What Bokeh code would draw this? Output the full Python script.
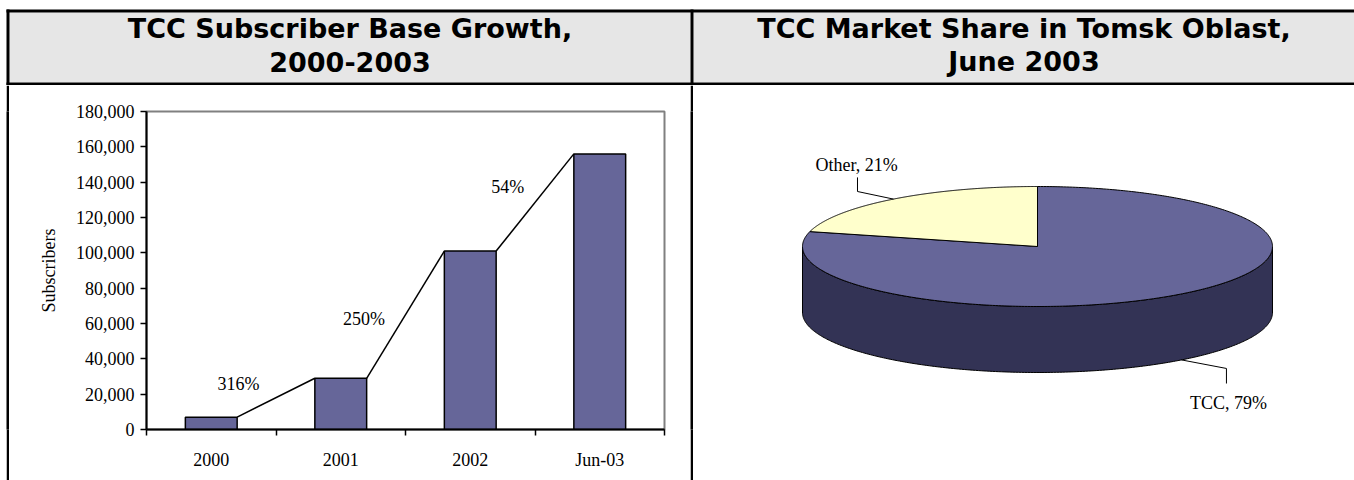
import numpy as np
from bokeh.plotting import figure
from bokeh.layouts import column, row
from bokeh.models import Range1d, FixedTicker, NumeralTickFormatter
from bokeh.core.properties import value
from bokeh.embed import file_html
from bokeh.resources import INLINE

# ---------------- data ----------------
categories = ["2000", "2001", "2002", "Jun-03"]
subscribers = [7000, 29000, 101000, 156000]
growth_labels = ["316%", "250%", "54%"]
y_ticks = [0, 20000, 40000, 60000, 80000, 100000, 120000, 140000, 160000, 180000]

pie_labels = ["TCC", "Other"]
pie_shares = [79, 21]

titles_left = ["TCC Subscriber Base Growth,", "2000-2003"]
titles_right = ["TCC Market Share in Tomsk Oblast,", "June 2003"]

# ---------------- placement / styles ----------------
growth_label_x = [0.71, 1.68, 2.79]
growth_label_y = [26000, 62800, 137500]
BAR_COLOR = "#666699"
PIE_TOP = ["#666699", "#FFFFCC"]
PIE_SIDE = ["#333355", "#99997A"]
SERIF = value("Liberation Serif")
HEAD_FONT = value("DejaVu Sans")

W, H, HEAD_H = 1354, 480, 85
BODY_H = H - HEAD_H
MB_TOP, MB_BOTTOM = 26, 51          # frame of the body row: y 111..429


def bare(width, height, xr, yr, fill="white", top=0, bottom=0):
    f = figure(width=width, height=height, x_range=xr, y_range=yr,
               min_border=0, min_border_top=top, min_border_bottom=bottom,
               output_backend="svg", toolbar_location=None,
               x_axis_type=None, y_axis_type=None)
    f.outline_line_color = None
    f.background_fill_color = fill
    f.border_fill_color = fill
    f.grid.visible = False
    return f


# ---------------- header ----------------
hd = bare(W, HEAD_H, Range1d(0, W), Range1d(HEAD_H, 0))
hd.quad(left=[9, 693], right=[690, W], top=[12, 12], bottom=[82, 82],
        fill_color="#E6E6E6", line_color=None)
hd.quad(left=[6, 6, 6, 690], right=[W, W, 9, 693], top=[9, 82, 9, 9],
        bottom=[12, 85, 85, 85], fill_color="black", line_color=None)
hd.text(x=[349.5, 349.5], y=[28, 61], text=titles_left, text_font=HEAD_FONT,
        text_font_style="bold", text_font_size="27px", text_align="center",
        text_baseline="middle", text_color="black")
hd.text(x=[1023.5, 1023.5], y=[28, 61], text=titles_right, text_font=HEAD_FONT,
        text_font_style="bold", text_font_size="27px", text_align="center",
        text_baseline="middle", text_color="black")

# ---------------- side strips (solid fills, full height) ----------------
gap = bare(6, BODY_H, Range1d(0, 1), Range1d(0, 1), fill="white", top=MB_TOP, bottom=MB_BOTTOM)
ls = bare(3, BODY_H, Range1d(0, 1), Range1d(0, 1), fill="black", top=MB_TOP, bottom=MB_BOTTOM)
ds = bare(3, BODY_H, Range1d(0, 1), Range1d(0, 1), fill="black", top=MB_TOP, bottom=MB_BOTTOM)

# ---------------- bar chart ----------------
n = len(categories)
bp = figure(width=681, height=BODY_H, x_range=Range1d(0, n), y_range=Range1d(0, 180000),
            min_border_left=137, min_border_right=26, min_border_top=MB_TOP,
            min_border_bottom=MB_BOTTOM, output_backend="svg", toolbar_location=None)
bp.background_fill_color = "white"
bp.border_fill_color = "white"
bp.outline_line_color = "#808080"
bp.outline_line_width = 2
bp.xgrid.visible = False
bp.ygrid.visible = False

xc = np.arange(n) + 0.5
bp.vbar(x=xc, top=subscribers, bottom=0, width=0.4, fill_color=BAR_COLOR,
        line_color="black", line_width=1.5)
sub = np.array(subscribers)
bp.segment(x0=xc[:-1] + 0.2, y0=sub[:-1], x1=xc[1:] - 0.2, y1=sub[1:],
           line_color="black", line_width=1.5)
bp.text(x=growth_label_x, y=growth_label_y, text=growth_labels, text_font=SERIF,
        text_font_size="18px", text_align="center", text_baseline="middle", text_color="black")

ya = bp.yaxis[0]
ya.ticker = FixedTicker(ticks=y_ticks)
ya.formatter = NumeralTickFormatter(format="0,0")
ya.major_tick_in = 0
ya.major_tick_out = 6
ya.minor_tick_line_color = None
ya.axis_line_width = 2
ya.major_tick_line_width = 1.5
ya.major_label_standoff = 6
ya.major_label_text_font = "Liberation Serif"
ya.major_label_text_font_size = "18px"
ya.major_label_text_color = "black"
ya.axis_label = "Subscribers"
ya.axis_label_text_font = "Liberation Serif"
ya.axis_label_text_font_style = "normal"
ya.axis_label_text_font_size = "18px"
ya.axis_label_text_color = "black"
ya.axis_label_standoff = 14

xa = bp.xaxis[0]
xa.ticker = FixedTicker(ticks=list(xc), minor_ticks=list(range(n + 1)))
xa.major_label_overrides = {float(x): c for x, c in zip(xc, categories)}
xa.major_tick_in = 0
xa.major_tick_out = 0
xa.minor_tick_in = 0
xa.minor_tick_out = 6
xa.minor_tick_line_width = 1.5
xa.minor_tick_line_color = "black"
xa.axis_line_width = 2
xa.major_label_standoff = 14
xa.major_label_text_font = "Liberation Serif"
xa.major_label_text_font_size = "18px"
xa.major_label_text_color = "black"

# ---------------- 3D pie ----------------
PW = W - 693
RX = 235.0
CXP = 344.0                      # pie centre, px from left of this panel
CY_FROM_FRAME_TOP = 246.0 - 111.0
FRAME_H = BODY_H - MB_TOP - MB_BOTTOM
tilt = 60.0 / RX
depth = 66.0 / RX
pp = bare(PW, BODY_H, Range1d(-CXP / RX, (PW - CXP) / RX),
          Range1d(-(FRAME_H - CY_FROM_FRAME_TOP) / RX, CY_FROM_FRAME_TOP / RX),
          top=MB_TOP, bottom=MB_BOTTOM)

shares = np.array(pie_shares, dtype=float) / sum(pie_shares)
bounds = 90.0 - 360.0 * np.concatenate([[0.0], np.cumsum(shares)])
mids = []
for i in range(len(shares)):
    th = np.radians(np.linspace(bounds[i], bounds[i + 1], 400))
    front = np.sin(th) <= 1e-9
    if front.sum() > 1:
        tf = th[front]
        xs = np.concatenate([np.cos(tf), np.cos(tf[::-1])])
        ys = np.concatenate([tilt * np.sin(tf), tilt * np.sin(tf[::-1]) - depth])
        pp.patch(xs, ys, fill_color=PIE_SIDE[i], line_color="black", line_width=1)
    mids.append(np.radians((bounds[i] + bounds[i + 1]) / 2))
for i in range(len(shares)):
    th = np.radians(np.linspace(bounds[i], bounds[i + 1], 400))
    xs = np.concatenate([[0.0], np.cos(th), [0.0]])
    ys = np.concatenate([[0.0], tilt * np.sin(th), [0.0]])
    pp.patch(xs, ys, fill_color=PIE_TOP[i], line_color="black", line_width=1)

pie_text = [f"{l}, {s}%" for l, s in zip(pie_labels, pie_shares)]
m0, m1 = mids
tcc_start = (np.cos(m0), tilt * np.sin(m0) - depth)
oth_start = (np.cos(m1), tilt * np.sin(m1))
pp.line([tcc_start[0], 0.804, 0.804], [tcc_start[1], -0.519, -0.583],
        line_color="black", line_width=1)
pp.line([oth_start[0], -0.766, -0.766], [oth_start[1], 0.234, 0.294],
        line_color="black", line_width=1)
pp.text(x=[0.813, -0.770], y=[-0.668, 0.345], text=pie_text, text_font=SERIF,
        text_font_size="18px", text_align="center", text_baseline="middle", text_color="black")

layout = column(hd, row(gap, ls, bp, ds, pp, spacing=0), spacing=0)
open("out.html", "w").write(file_html(layout, INLINE))
